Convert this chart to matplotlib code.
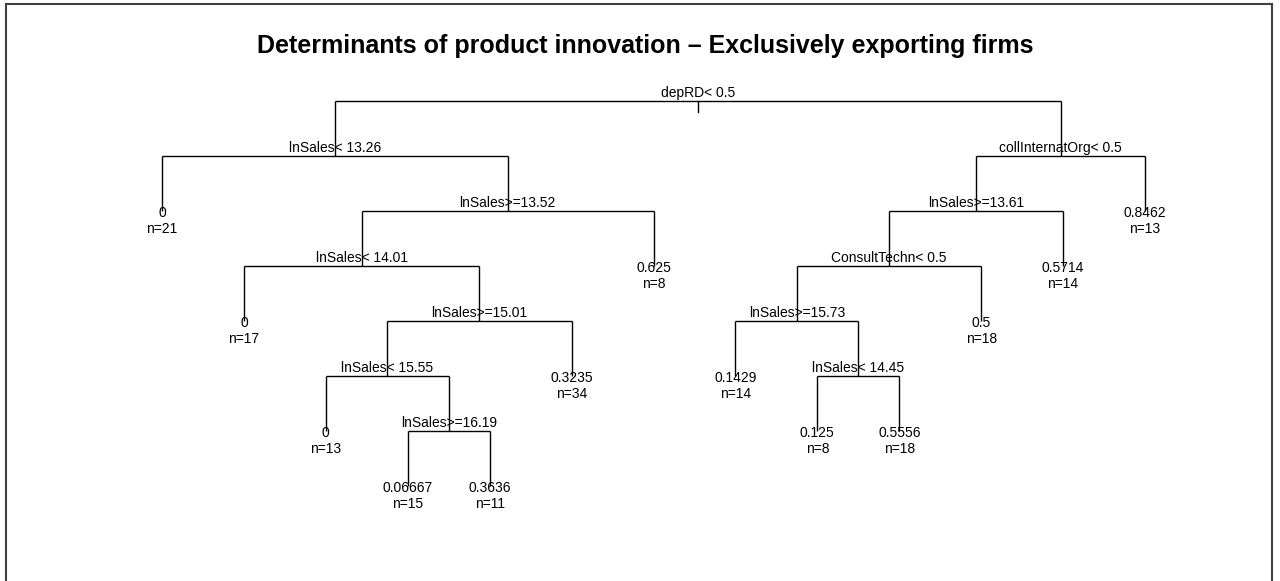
import matplotlib
matplotlib.use("Agg")
import matplotlib.pyplot as plt
from matplotlib.lines import Line2D
from matplotlib.transforms import offset_copy

plt.rcParams['font.family'] = ['Liberation Sans', 'DejaVu Sans']

title = "Determinants of product innovation \u2013 Exclusively exporting firms"

# rpart node numbering: children of n are 2n and 2n+1
split_nodes = [1, 2, 5, 10, 21, 42, 85, 3, 6, 12, 24, 49]
split_labels = ["depRD< 0.5", "lnSales< 13.26", "lnSales>=13.52", "lnSales< 14.01",
                "lnSales>=15.01", "lnSales< 15.55", "lnSales>=16.19",
                "collInternatOrg< 0.5", "lnSales>=13.61", "ConsultTechn< 0.5",
                "lnSales>=15.73", "lnSales< 14.45"]

leaf_nodes = [4, 20, 84, 170, 171, 43, 11, 48, 98, 99, 25, 13, 7]
leaf_yval = ["0", "0", "0", "0.06667", "0.3636", "0.3235", "0.625",
             "0.1429", "0.125", "0.5556", "0.5", "0.5714", "0.8462"]
leaf_n = [21, 17, 13, 15, 11, 34, 8, 14, 8, 18, 18, 14, 13]


def depth(node):
    return node.bit_length() - 1


# layout like plot.rpart(uniform=TRUE): leaves at 1..k, parents at mean of children
xpos = {}
counter = [0]


def layout(node):
    if node in leaf_nodes:
        counter[0] += 1
        xpos[node] = counter[0]
    else:
        layout(2 * node)
        layout(2 * node + 1)
        xpos[node] = (xpos[2 * node] + xpos[2 * node + 1]) / 2.0


layout(1)

fig = plt.figure(figsize=(12.8, 5.81), dpi=100)
ax = fig.add_axes([0, 0, 1, 1])
ax.set_xlim(-0.978, 14.648)
ax.set_ylim(8.727, -1.836)
ax.axis("off")

lw = 1.0
for node in split_nodes:
    x, d = xpos[node], depth(node)
    xl, xr = xpos[2 * node], xpos[2 * node + 1]
    ax.plot([xl, xr], [d, d], color="black", lw=lw, solid_capstyle="butt")
    for child in (2 * node, 2 * node + 1):
        ax.plot([xpos[child], xpos[child]], [d, depth(child)], color="black", lw=lw,
                solid_capstyle="butt")

# small stub under the root
ax.plot([xpos[1], xpos[1]], [0, 0.2], color="black", lw=lw)

above = offset_copy(ax.transData, fig=fig, y=4, units="dots")
for node, lab in zip(split_nodes, split_labels):
    ax.text(xpos[node], depth(node), lab, transform=above, ha="center", va="baseline",
            fontsize=10)

val_tr = offset_copy(ax.transData, fig=fig, y=-2, units="dots")
n_tr = offset_copy(ax.transData, fig=fig, y=-18, units="dots")
for node, v, n in zip(leaf_nodes, leaf_yval, leaf_n):
    ax.text(xpos[node], depth(node), v, transform=val_tr, ha="center", va="center",
            fontsize=10)
    ax.text(xpos[node], depth(node), "n=%d" % n, transform=n_tr, ha="center",
            va="center", fontsize=10)

fig.text(645 / 1280, 1 - 46 / 581, title, ha="center", va="center", fontsize=18,
         fontweight="bold")

# outer frame (top, left, right)
frame_kw = dict(color="#404040", lw=1.5, transform=None)
W, H = 1280, 581
fig.add_artist(Line2D([6, 1272], [H - 4, H - 4], **frame_kw))
fig.add_artist(Line2D([6, 6], [0, H - 4], **frame_kw))
fig.add_artist(Line2D([1272, 1272], [0, H - 4], **frame_kw))

fig.savefig("out.png", dpi=100)
